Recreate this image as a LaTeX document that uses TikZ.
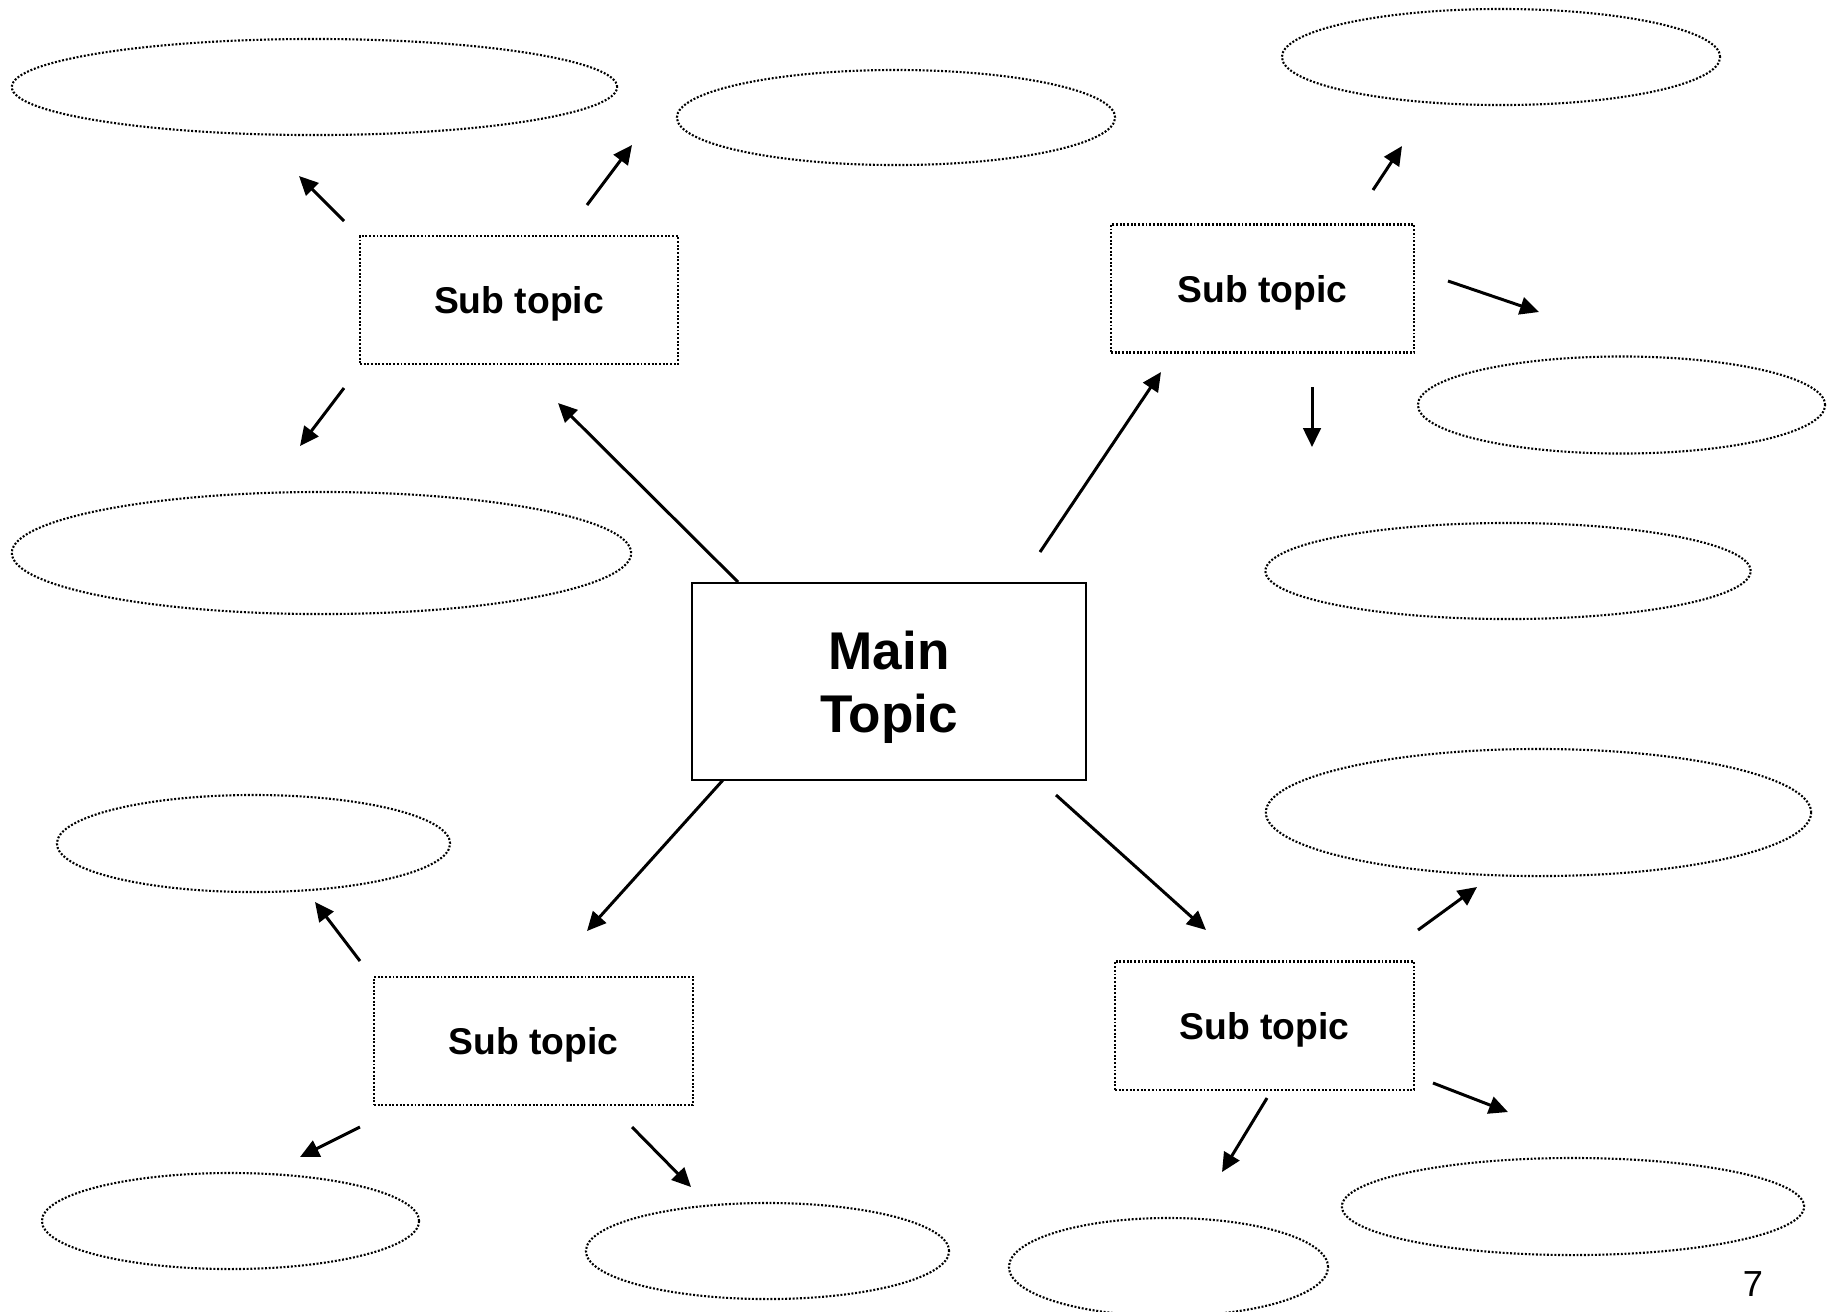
\documentclass[tikz,border=0pt]{standalone}
\usepackage{fontspec}
\setmainfont{Liberation Sans}
\usepackage{tikz}
\usetikzlibrary{arrows.meta,shapes.geometric}

\tikzset{
  dotline/.style={line width=0.6pt, dash pattern=on 0.55pt off 0.5pt},
  mainbox/.style={draw, line width=0.6pt, align=center, text depth=0pt,
    minimum width=3.94cm, minimum height=1.97cm,
    font=\bfseries\fontsize{15.1}{18}\selectfont},
  subbox/.style={draw, dotline, text depth=0pt, minimum height=1.28cm,
    font=\bfseries\fontsize{10.6}{12.5}\selectfont},
  bubble/.style={draw, dotline, ellipse, inner sep=0pt},
  link/.style={line width=0.85pt, -{Triangle[length=5.4pt,width=5pt]}},
}

\begin{document}
\begin{tikzpicture}[x=0.01cm, y=-0.01cm]
\path[use as bounding box, fill=white] (0,0) rectangle (1837,1311);

\node[mainbox] (main) at (889,681.5) {Main\\Topic};

\node[subbox, minimum width=3.18cm] (subA) at (519,300) {Sub topic};
\node[subbox, minimum width=3.03cm] (subB) at (1262.5,288.5) {Sub topic};
\node[subbox, minimum width=3.19cm] (subC) at (533.5,1041) {Sub topic};
\node[subbox, minimum width=2.99cm] (subD) at (1264.5,1025.5) {Sub topic};

\node[bubble, minimum width=6.05cm, minimum height=0.96cm] (ideaA1) at (314.5,87) {};
\node[bubble, minimum width=4.38cm, minimum height=0.95cm] (ideaA2) at (896,117.5) {};
\node[bubble, minimum width=6.19cm, minimum height=1.22cm] (ideaA3) at (321.5,553) {};
\node[bubble, minimum width=4.38cm, minimum height=0.96cm] (ideaB1) at (1501,57) {};
\node[bubble, minimum width=4.07cm, minimum height=0.97cm] (ideaB2) at (1621.5,405) {};
\node[bubble, minimum width=4.85cm, minimum height=0.96cm] (ideaB3) at (1508,571) {};
\node[bubble, minimum width=3.93cm, minimum height=0.97cm] (ideaC1) at (253.5,843.5) {};
\node[bubble, minimum width=3.77cm, minimum height=0.96cm] (ideaC2) at (230.5,1221) {};
\node[bubble, minimum width=3.63cm, minimum height=0.96cm] (ideaC3) at (767.5,1251) {};
\node[bubble, minimum width=5.45cm, minimum height=1.27cm] (ideaD1) at (1538.5,812.5) {};
\node[bubble, minimum width=4.62cm, minimum height=0.97cm] (ideaD2) at (1573,1206.5) {};
\node[bubble, minimum width=3.19cm, minimum height=0.98cm] (ideaD3) at (1168.5,1267) {};

\node[font=\fontsize{10.3}{12}\selectfont, text depth=0pt] (page) at (1753,1284) {7};

\coordinate (mA) at (738,582);   \coordinate (tA) at (558,403);
\coordinate (mB) at (1040,552);  \coordinate (tB) at (1161,372);
\coordinate (mC) at (723,780);   \coordinate (tC) at (587,931);
\coordinate (mD) at (1056,795);  \coordinate (tD) at (1206,930);

\coordinate (a1) at (344,221);   \coordinate (a1t) at (299,176);
\coordinate (a2) at (587,205);   \coordinate (a2t) at (632,145);
\coordinate (a3) at (344,388);   \coordinate (a3t) at (300,446);
\coordinate (b1) at (1373,190);  \coordinate (b1t) at (1402,146);
\coordinate (b2) at (1448,281);  \coordinate (b2t) at (1539,312);
\coordinate (b3) at (1312,387);  \coordinate (b3t) at (1312,447);
\coordinate (c1) at (360,961);   \coordinate (c1t) at (315,902);
\coordinate (c2) at (360,1127);  \coordinate (c2t) at (300,1157);
\coordinate (c3) at (632,1127);  \coordinate (c3t) at (691,1187);
\coordinate (d1) at (1418,930);  \coordinate (d1t) at (1477,887);
\coordinate (d2) at (1433,1083); \coordinate (d2t) at (1508,1112);
\coordinate (d3) at (1267,1098); \coordinate (d3t) at (1222,1172);

\draw[link] (mA) -- (tA);
\draw[link] (mB) -- (tB);
\draw[link] (mC) -- (tC);
\draw[link] (mD) -- (tD);

\draw[link] (a1) -- (a1t);
\draw[link] (a2) -- (a2t);
\draw[link] (a3) -- (a3t);
\draw[link] (b1) -- (b1t);
\draw[link] (b2) -- (b2t);
\draw[link] (b3) -- (b3t);
\draw[link] (c1) -- (c1t);
\draw[link] (c2) -- (c2t);
\draw[link] (c3) -- (c3t);
\draw[link] (d1) -- (d1t);
\draw[link] (d2) -- (d2t);
\draw[link] (d3) -- (d3t);
\end{tikzpicture}
\end{document}
